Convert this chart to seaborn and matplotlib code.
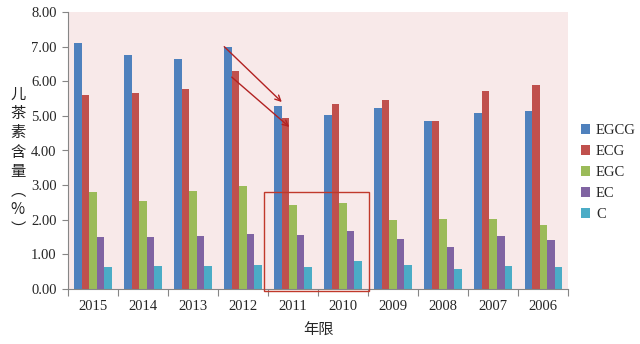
import matplotlib
matplotlib.use("Agg")
import matplotlib.pyplot as plt
import seaborn as sns
import pandas as pd
from matplotlib.patches import Rectangle, Patch

years = ["2015", "2014", "2013", "2012", "2011", "2010", "2009", "2008", "2007", "2006"]
compounds = ["EGCG", "ECG", "EGC", "EC", "C"]
egcg = [7.12, 6.75, 6.65, 7.00, 5.30, 5.03, 5.23, 4.85, 5.08, 5.15]
ecg = [5.60, 5.67, 5.78, 6.30, 4.93, 5.35, 5.47, 4.85, 5.72, 5.90]
egc = [2.80, 2.55, 2.82, 2.98, 2.42, 2.47, 2.00, 2.03, 2.03, 1.85]
ec = [1.50, 1.50, 1.52, 1.58, 1.57, 1.67, 1.43, 1.20, 1.53, 1.40]
c = [0.63, 0.65, 0.67, 0.70, 0.63, 0.82, 0.70, 0.58, 0.65, 0.62]
colors = ["#4F81BD", "#C0504D", "#9BBB59", "#8064A2", "#4BACC6"]
y_ticks = [0, 1, 2, 3, 4, 5, 6, 7, 8]
y_label = ["儿", "茶", "素", "含", "量", "︵", "%", "︶"]
x_label = "年限"

series = {"EGCG": egcg, "ECG": ecg, "EGC": egc, "EC": ec, "C": c}
rows = []
for name in compounds:
    for yr, v in zip(years, series[name]):
        rows.append({"year": yr, "compound": name, "value": v})
df = pd.DataFrame(rows)

sns.set_theme(style="white")
plt.rcParams["font.family"] = ["Liberation Serif", "Noto Sans CJK SC", "DejaVu Sans"]

fig = plt.figure(figsize=(6.4, 3.44), dpi=100)
ax = fig.add_axes([0.106, 0.16, 0.782, 0.805])
ax.set_facecolor("#F8E9E9")

sns.barplot(data=df, x="year", y="value", hue="compound", order=years,
            hue_order=compounds, palette=colors, saturation=1, width=0.75,
            linewidth=0, errorbar=None, legend=False, ax=ax)

ax.set_ylim(0, 8)
ax.set_xlim(-0.5, len(years) - 0.5)
ax.set_yticks(y_ticks)
ax.set_yticklabels([f"{t:.2f}" for t in y_ticks], fontsize=10.5)
ax.set_xticks(range(len(years)))
ax.set_xticklabels(years, fontsize=10.5)
ax.tick_params(axis="x", length=0, pad=8)
ax.tick_params(axis="y", length=4, width=0.8, color="#868686", direction="out", pad=4, left=True)
ax.set_xticks([i - 0.5 for i in range(len(years) + 1)], minor=True)
ax.tick_params(axis="x", which="minor", length=5, width=0.8, color="#868686", direction="out", bottom=True)

for s in ["top", "right"]:
    ax.spines[s].set_visible(False)
for s in ["left", "bottom"]:
    ax.spines[s].set_color("#868686")
    ax.spines[s].set_linewidth(0.8)

ax.set_xlabel(x_label, fontsize=11, family=["Noto Sans CJK SC"], labelpad=6)
ax.set_ylabel("")
fig.text(0.028, 0.53, "\n".join(y_label), fontsize=11, family=["Noto Sans CJK SC", "DejaVu Sans"],
         ha="center", va="center", linespacing=1.17, color="#222222")

handles = [Patch(facecolor=col, edgecolor="none", label=n) for n, col in zip(compounds, colors)]
leg = ax.legend(handles=handles, loc="center left", bbox_to_anchor=(1.0, 0.42), frameon=False,
                fontsize=10.5, handlelength=0.6, handleheight=0.6, handletextpad=0.4,
                labelspacing=0.55)

n = len(years)
bars = ax.patches
def bar(ci, yi):
    return bars[ci * n + yi]
i12, i11 = years.index("2012"), years.index("2011")
for ci in [0, 1]:
    b0 = bar(ci, i12)
    b1 = bar(ci, i11)
    start = (b0.get_x(), b0.get_height() - (0 if ci == 0 else 0.18))
    end = (b1.get_x() + b1.get_width(), b1.get_height() + (0.1 if ci == 0 else -0.25))
    ax.annotate("", xy=end, xytext=start,
                arrowprops=dict(arrowstyle="->", color="#B22222", lw=1.0,
                                shrinkA=0, shrinkB=0, mutation_scale=10))

i10 = years.index("2010")
rect = Rectangle((i11 - 0.58, -0.06), (i10 - i11) + 1.1, 2.86, fill=False,
                 edgecolor="#C0392B", linewidth=1.0, clip_on=False, zorder=5)
ax.add_patch(rect)

fig.savefig("out.png", dpi=100)
